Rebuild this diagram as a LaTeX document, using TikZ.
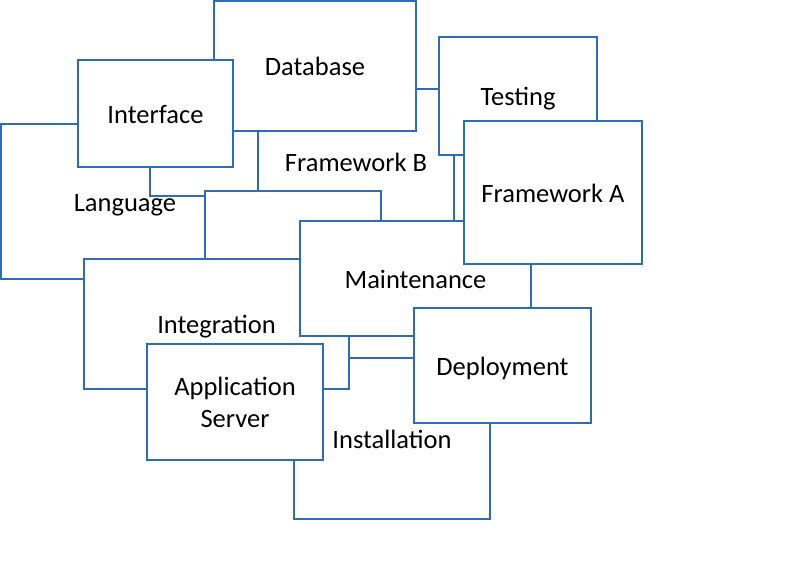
\documentclass[tikz,border=0pt]{standalone}
\usepackage{fontspec}
\setmainfont{Carlito}
\definecolor{boxblue}{RGB}{46,109,180}
\tikzset{
  box/.style={draw=boxblue, line width=2pt, fill=white, inner sep=0pt,
    font=\fontsize{26.5}{32}\selectfont, text=black},
  one/.style={text height=20pt, text depth=0pt}
}
\begin{document}
\begin{tikzpicture}[x=1pt,y=-1pt]
\useasboundingbox (0,0) rectangle (788,585);
% bottom to top
\node[box,one,minimum width=248pt,minimum height=155pt] (language) at (125,201.5) {Language};
\node[box,minimum width=250pt,minimum height=86pt] (hiddenA) at (275,153) {};
\node[box,one,minimum width=196pt,minimum height=146pt] (fwb) at (356,162) {Framework B};
\node[box,one,minimum width=158pt,minimum height=118pt] (testing) at (518,96) {Testing};
\node[box,one,minimum width=202pt,minimum height=130pt] (database) at (315,66) {Database};
\node[box,one,minimum width=155pt,minimum height=107pt] (interface) at (155.5,113.5) {Interface};
\node[box,minimum width=176pt,minimum height=109pt] (hiddenB) at (293,245.5) {};
\node[box,one,minimum width=196pt,minimum height=161pt] (installation) at (392,438.5) {Installation};
\node[box,one,minimum width=265pt,minimum height=130pt] (integration) at (216.5,324) {Integration};
\node[box,one,minimum width=231pt,minimum height=115pt] (maintenance) at (415.5,278.5) {Maintenance};
\node[box,one,minimum width=178pt,minimum height=143pt] (fwa) at (553,192.5) {Framework A};
\node[box,align=center,minimum width=176pt,minimum height=116pt] (appserver) at (235,402) {Application\\Server};
\node[box,one,minimum width=177pt,minimum height=115pt] (deployment) at (502.5,365.5) {Deployment};
\end{tikzpicture}
\end{document}
